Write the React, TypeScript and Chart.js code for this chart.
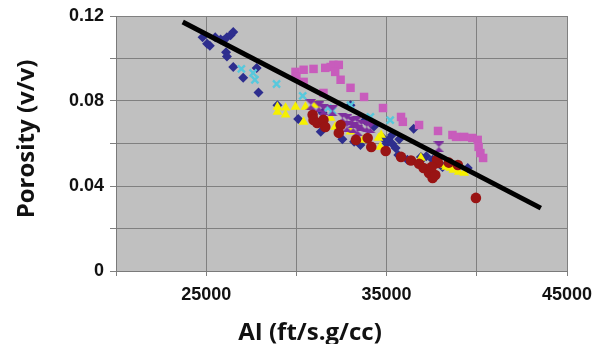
import React, { useEffect, useRef } from "react";
import { Chart, registerables } from "chart.js";

Chart.register(...registerables);

const navyPoints = [
  [24800, 0.11], [25050, 0.107], [25200, 0.106], [25500, 0.11], [25800, 0.109], [25950, 0.1085],
  [26150, 0.11], [26350, 0.111], [26500, 0.1125], [26100, 0.103], [26150, 0.101], [26500, 0.096],
  [27050, 0.091], [27800, 0.0955], [27900, 0.084], [28950, 0.078], [30100, 0.0715], [31350, 0.0655],
  [31450, 0.0745], [32550, 0.062], [33000, 0.078], [33200, 0.0608], [33550, 0.0593], [34800, 0.0626],
  [35000, 0.06], [35100, 0.0617], [35300, 0.06], [35500, 0.0579], [35650, 0.0546], [36150, 0.0523],
  [36500, 0.0669], [36900, 0.0537], [37200, 0.054], [37550, 0.0523], [37800, 0.053], [38100, 0.049],
  [38400, 0.051], [39500, 0.0485], [33800, 0.071], [34300, 0.068], [35300, 0.064], [35700, 0.062],
  [37000, 0.053],
];
const magentaPoints = [
  [29950, 0.0937], [30400, 0.0947], [30950, 0.0951], [31600, 0.0956], [31900, 0.096], [32050, 0.097],
  [32350, 0.097], [32150, 0.0937], [32450, 0.09], [33000, 0.0862], [33750, 0.0819], [34800, 0.0767],
  [35800, 0.0725], [35900, 0.0702], [36800, 0.0687], [37850, 0.0659], [38650, 0.064], [38850, 0.0631],
  [39300, 0.0631], [39750, 0.0626], [40050, 0.0617], [40100, 0.0584], [40200, 0.0555], [40350, 0.0532],
  [30400, 0.089], [31500, 0.0838], [30000, 0.0915],
];
const yellowPoints = [
  [28950, 0.0749], [28950, 0.0772], [29400, 0.0768], [29400, 0.0735], [29950, 0.0772], [30500, 0.0772],
  [31050, 0.0782], [30400, 0.0702], [31900, 0.072], [32150, 0.0678], [33000, 0.0655], [33700, 0.0617],
  [34550, 0.0626], [34650, 0.0584], [34700, 0.064], [36900, 0.0532], [38000, 0.0499], [38300, 0.049],
  [38550, 0.0485], [39000, 0.0466], [39300, 0.0461], [38700, 0.0475],
];
const cyanPoints = [
  [26950, 0.0951], [27600, 0.0932], [27700, 0.09], [28900, 0.088], [30350, 0.0824], [31750, 0.0767],
  [32000, 0.0755], [33000, 0.078], [34100, 0.0725], [35200, 0.071],
];
const purplePoints = [
  [30800, 0.0782], [31250, 0.0772], [31500, 0.0758], [32000, 0.0753], [32550, 0.072], [32800, 0.0711],
  [33100, 0.0697], [33350, 0.0702], [33600, 0.0687], [33900, 0.0678], [32800, 0.0678], [33150, 0.0673],
  [34100, 0.0673], [33400, 0.066], [37900, 0.0584],
];
const darkRedPoints = [
  [30900, 0.0735], [30950, 0.0711], [31150, 0.0697], [31500, 0.0711], [31600, 0.0678], [32450, 0.0687],
  [32350, 0.065], [33300, 0.0617], [33950, 0.0626], [34150, 0.0584], [34950, 0.0565], [35800, 0.0537],
  [36350, 0.052], [36800, 0.0505], [37050, 0.0485], [37350, 0.0461], [37550, 0.0438], [37700, 0.0452],
  [37850, 0.0508], [37800, 0.0525], [37500, 0.049], [38450, 0.051], [38950, 0.0499], [39950, 0.0344],
];
const trendPoints = [[23700, 0.1172], [43550, 0.0296]];

const xTickLabels = ["", "25000", "", "35000", "", "45000"];
const yTickLabels = ["0", "", "0.04", "", "0.08", "", "0.12"];
const xTitle = "AI (ft/s.g/cc)";
const yTitle = "Porosity (v/v)";

const toXY = (arr: number[][]) => arr.map(([x, y]) => ({ x, y }));

function makeHourglass(color: string, size: number) {
  const c = document.createElement("canvas");
  c.width = size;
  c.height = size;
  const g = c.getContext("2d")!;
  g.fillStyle = color;
  g.beginPath();
  g.moveTo(0, 0);
  g.lineTo(size, 0);
  g.lineTo(size / 2, size / 2);
  g.closePath();
  g.moveTo(0, size);
  g.lineTo(size, size);
  g.lineTo(size / 2, size / 2);
  g.closePath();
  g.fill();
  return c;
}

export default function App() {
  const ref = useRef<HTMLCanvasElement>(null);
  useEffect(() => {
    document.body.style.margin = "0";
    const titlePlugin = {
      id: "axisTitles",
      afterDraw(chart: any) {
        const ctx = chart.ctx;
        ctx.save();
        ctx.fillStyle = "#111";
        ctx.font = "bold 24px 'Open Sans'";
        ctx.textAlign = "center";
        ctx.textBaseline = "alphabetic";
        ctx.fillText(xTitle, 310, 340);
        ctx.translate(34, 139);
        ctx.rotate(-Math.PI / 2);
        ctx.font = "bold 24px 'Open Sans'";
        ctx.fillText(yTitle, 0, 0);
        ctx.restore();
      },
    };
    const hour = makeHourglass("#7e2f9e", 11);
    const chart = new Chart(ref.current!, {
      type: "scatter",
      data: {
        datasets: [
          {
            type: "line",
            data: toXY(trendPoints),
            borderColor: "#000",
            borderWidth: 5,
            pointRadius: 0,
            fill: false,
          } as any,
          { data: toXY(darkRedPoints), pointStyle: "circle", pointRadius: 5.3, backgroundColor: "#991414", borderColor: "#991414", borderWidth: 0 },
          { data: toXY(purplePoints), pointStyle: hour as any, backgroundColor: "#7e2f9e", borderColor: "#7e2f9e" },
          { data: toXY(cyanPoints), pointStyle: "crossRot", pointRadius: 5, borderWidth: 2.4, borderColor: "#58c8dc", backgroundColor: "#58c8dc" },
          { data: toXY(yellowPoints), pointStyle: "triangle", pointRadius: 5.6, backgroundColor: "#f6f000", borderColor: "#f6f000", borderWidth: 0 },
          { data: toXY(magentaPoints), pointStyle: "rect", pointRadius: 6, backgroundColor: "#c85cbc", borderColor: "#c85cbc", borderWidth: 0 },
          { data: toXY(navyPoints), pointStyle: "rectRot", pointRadius: 5, backgroundColor: "#2e2e8e", borderColor: "#2e2e8e", borderWidth: 0 },
        ],
      },
      options: {
        animation: false,
        responsive: false,
        events: [],
        layout: { padding: { left: 0, right: 30, top: 16, bottom: 0 } },
        plugins: { legend: { display: false }, tooltip: { enabled: false } },
        scales: {
          x: {
            type: "linear",
            min: 20000,
            max: 45000,
            ticks: {
              stepSize: 5000,
              autoSkip: false,
              maxRotation: 0,
              padding: 8,
              color: "#111",
              font: { family: "'Liberation Sans', Arial", size: 18, weight: "bold" },
              callback: (_v: any, i: number) => xTickLabels[i],
            },
            grid: { color: "#808080", lineWidth: 1, tickLength: 5, drawTicks: true },
            border: { display: true, color: "#7a7a7a", width: 1 },
            afterFit: (s: any) => {
              s.height = 73;
              s.paddingLeft = 0;
              s.paddingRight = 0;
            },
          },
          y: {
            min: 0,
            max: 0.12,
            ticks: {
              stepSize: 0.02,
              autoSkip: false,
              padding: 6,
              color: "#111",
              font: { family: "'Liberation Sans', Arial", size: 18, weight: "bold" },
              callback: (_v: any, i: number) => yTickLabels[i],
            },
            grid: { color: "#808080", lineWidth: 1, tickLength: 6, drawTicks: true },
            border: { display: true, color: "#7a7a7a", width: 1 },
            afterFit: (s: any) => {
              s.width = 116;
              s.paddingTop = 0;
              s.paddingBottom = 0;
            },
          },
        },
      },
      plugins: [
        {
          id: "plotBg",
          beforeDraw(chart: any) {
            const { ctx, chartArea: a } = chart;
            ctx.save();
            ctx.fillStyle = "#c0c0c0";
            ctx.fillRect(a.left, a.top, a.right - a.left, a.bottom - a.top);
            ctx.restore();
          },
        },
        titlePlugin,
      ],
    } as any);
    return () => chart.destroy();
  }, []);
  return (
    <div style={{ width: 597, height: 344 }}>
      <canvas ref={ref} width={597} height={344} style={{ display: "block" }} />
    </div>
  );
}
